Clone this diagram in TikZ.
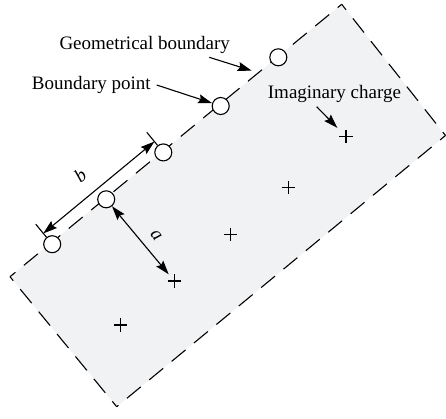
\documentclass[tikz,border=0pt]{standalone}
\usepackage{fontspec}
\setmainfont{Liberation Serif}
\usetikzlibrary{arrows.meta,calc}
\definecolor{regionfill}{RGB}{241,242,244}
\begin{document}
\begin{tikzpicture}[x=1pt,y=-1pt,
  bpt/.style={circle,draw,fill=white,minimum size=17pt,inner sep=0pt,line width=1.1pt},
  chg/.style={rectangle,minimum size=13pt,inner sep=0pt},
  pl/.style={line width=1.1pt},
  bedge/.style={line width=1.1pt,dash pattern=on 18pt off 11pt,dash phase=11pt},
  tick/.style={line width=1.1pt},
  arr/.style={line width=1.1pt,-{Stealth[length=14pt,width=9pt,inset=2pt]}},
  dimarr/.style={line width=1.1pt,{Stealth[length=14pt,width=9pt,inset=2pt]}-{Stealth[length=14pt,width=9pt,inset=2pt]}},
  lbl/.style={font=\fontsize{19}{22}\selectfont,inner sep=0pt}]
\useasboundingbox (0,0) rectangle (446,418);
% region
\coordinate (L) at (10,276.7);
\coordinate (T) at (341.7,4.3);
\coordinate (R) at (445.5,135.5);
\coordinate (B) at (116.7,406.7);
\fill[regionfill] (L) -- (T) -- (R) -- (B) -- cycle;
\draw[bedge] (L) -- (T);
\draw[bedge] (T) -- (R);
\draw[bedge] (R) -- (B);
\draw[bedge] (B) -- (L);
% boundary points
\node[bpt] (c1) at (278.3,57.3) {};
\node[bpt] (c2) at (220.7,106) {};
\node[bpt] (c3) at (163.3,152.4) {};
\node[bpt] (c4) at (106.2,199.3) {};
\node[bpt] (c5) at (52.2,244.2) {};
% imaginary charges
\node[chg] (p1) at (346,136.7) {};
\node[chg] (p2) at (288.3,187.7) {};
\node[chg] (p3) at (230.7,234.3) {};
\node[chg] (p4) at (174.3,281) {};
\node[chg] (p5) at (120.7,325) {};
\foreach \p in {p1,p2,p3,p4,p5}
  \draw[pl] (\p.north) -- (\p.south) (\p.west) -- (\p.east);
% dimension b
\coordinate (t3o) at ($(c3)+(-16.5,-20.1)$);
\coordinate (t5o) at ($(c5)+(-16.5,-20.1)$);
\draw[tick] (c3) -- (t3o);
\draw[tick] (c5) -- (t5o);
\coordinate (b3) at ($(c3)+(-8.9,-10.8)$);
\coordinate (b5) at ($(c5)+(-8.9,-10.8)$);
\draw[dimarr] (b3) -- (b5);
\node[lbl,rotate=39] (blab) at ($(b3)!0.5!(b5)+(-18.7,-12.2)$) {\textit{b}};
% dimension a
\draw[dimarr] (c4) -- (p4);
\node[lbl,rotate=-51] (alab) at (156,235) {\textit{a}};
% labels
\node[lbl,anchor=base west] (gb) at (59.3,49.3) {Geometrical boundary};
\node[lbl,anchor=base west] (bp) at (31.7,89.3) {Boundary point};
\node[lbl,anchor=base west] (ic) at (267.7,98) {Imaginary charge};
\coordinate (gbs) at (209.3,57.3);
\coordinate (gbe) at (251.7,70.7);
\draw[arr] (gbs) -- (gbe);
\coordinate (bps) at (156.7,85);
\draw[arr] (bps) -- (c2);
\coordinate (ics) at (316.7,106.7);
\draw[arr,shorten >=3pt] (ics) -- (p1);
\end{tikzpicture}
\end{document}
